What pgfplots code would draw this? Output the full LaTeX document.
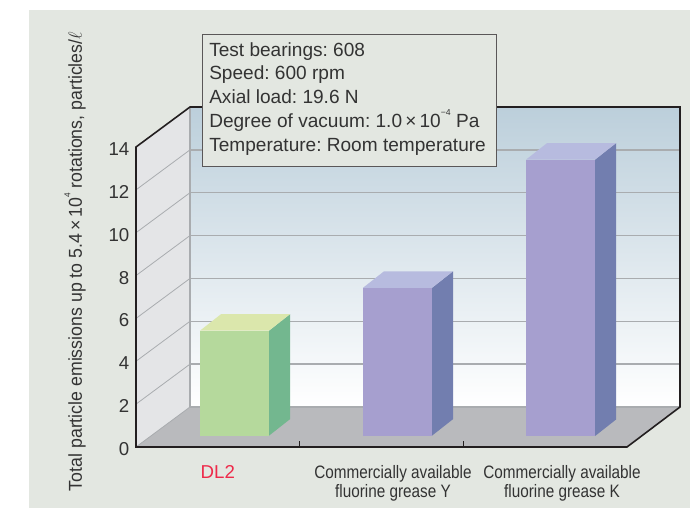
\documentclass[border=0pt]{standalone}
\usepackage{pgfplots}
\pgfplotsset{compat=1.18}
\usepackage{fontspec}
\setmainfont{Liberation Sans}
\frenchspacing
\definecolor{pagebg}{HTML}{E3E7E1}
\definecolor{txt}{HTML}{333333}
\definecolor{frame}{HTML}{231F20}
\definecolor{gridc}{HTML}{A9ACAF}
\definecolor{wallc}{HTML}{E4E5E7}
\definecolor{floorc}{HTML}{B9BABD}
\definecolor{wtop}{HTML}{BCCFDB}
\definecolor{gfront}{HTML}{B5D99C}
\definecolor{gside}{HTML}{73B78F}
\definecolor{gtop}{HTML}{DBE7AC}
\definecolor{pfront}{HTML}{A69FCF}
\definecolor{pside}{HTML}{727EAF}
\definecolor{ptop}{HTML}{B7BBDF}
\definecolor{dlred}{HTML}{EE2A4A}
\newcommand\supsmall[1]{\raisebox{0.62em}{\fontsize{6.5}{7}\selectfont #1}}
\begin{document}
\begin{tikzpicture}[x=0.75pt,y=0.75pt]
\fill[white] (0,0) rectangle (690,508);
\fill[pagebg] (29,0) rectangle (690,498);
\begin{axis}[
  at={(102pt,45.75pt)},anchor=south west,
  scale only axis,width=408pt,height=255pt,
  xmin=0,xmax=3.3238,ymin=0,ymax=15.867,
  clip=false,axis on top=true,
  axis line style={draw=none},
  bar shift=0pt,
  ytick={0,2,4,6,8,10,12,14},
  ytick style={draw=none},
  xtick={0.5,1.57,2.603},
  xticklabels={{\fontsize{14}{14.6}\selectfont\textcolor{dlred}{DL2}},
    {\scalebox{0.85}[1]{Commercially available}\\\scalebox{0.85}[1]{fluorine grease Y}},
    {\scalebox{0.85}[1]{Commercially available}\\\scalebox{0.85}[1]{fluorine grease K}}},
  x tick style={draw=none},
  xticklabel style={align=center,font=\fontsize{13.5}{14.6}\selectfont,text=txt,anchor=north,yshift=-10pt},
  yticklabel style={font=\fontsize{14}{15}\selectfont,text=txt,xshift=-1.5pt,yshift=-1.5pt},
  /pgf/number format/assume math mode=true,
  ylabel={\scalebox{0.95}[1]{Total particle emissions up to 5.4\,×\,10\supsmall{4} rotations, particles/$\ell$}},
  ylabel style={at={(axis description cs:-0.1121,0.5456)},anchor=center,font=\fontsize{14}{15}\selectfont,text=txt},
]
% walls and floor
\addplot[draw=none,fill=wallc] coordinates {(0,0)(0.33,1.867)(0.33,15.867)(0,14)} --cycle;
\addplot[draw=none,top color=wtop,bottom color=white] coordinates {(0.33,1.867)(0.33,15.867)(3.3238,15.867)(3.3238,1.867)} --cycle;
\addplot[draw=none,fill=floorc] coordinates {(0,0)(0.33,1.867)(3.3238,1.867)(3,0)} --cycle;
% grid
\foreach \v/\b in {0/1.867,2/3.867,4/5.867,6/7.867,8/9.867,10/11.867,12/13.867}{
  \edef\tmp{\noexpand\addplot[draw=gridc,line width=1.1pt] coordinates {(0.33,\b)(3.3238,\b)};
  \noexpand\addplot[draw=gridc,line width=0.6pt] coordinates {(0,\v)(0.33,\b)};}\tmp
}
\addplot[draw=gridc,line width=1.1pt] coordinates {(0.33,1.867)(0.33,15.867)};
% frame
\addplot[draw=frame,line width=1.2pt,line join=miter] coordinates {(0,0)(0,14)(0.33,15.867)(3.3238,15.867)(3.3238,1.867)(3,0)} --cycle;
% category separators on the floor edge
\addplot[draw=frame,line width=0.6pt] coordinates {(1,0)(1,0.3)};
\addplot[draw=frame,line width=0.6pt] coordinates {(2,0)(2,0.3)};
% bars
\addplot[ybar,bar width=51.75pt,fill=gfront,draw=none,xshift=12.5pt,yshift=8.5pt] coordinates {(0.5,4.9)};
\addplot[fill=gside,draw=none,xshift=12.5pt,yshift=8.5pt] coordinates {(0.7108,0)(0.7108,4.9)(0.8391,5.67)(0.8391,0.77)} --cycle;
\addplot[fill=gtop,draw=none,xshift=12.5pt,yshift=8.5pt] coordinates {(0.2892,4.9)(0.7108,4.9)(0.8391,5.67)(0.4175,5.67)} --cycle;
\addplot[ybar,bar width=51.75pt,fill=pfront,draw=none,xshift=12pt,yshift=8.5pt] coordinates {(1.5,6.9)};
\addplot[fill=pside,draw=none,xshift=12pt,yshift=8.5pt] coordinates {(1.7108,0)(1.7108,6.9)(1.8391,7.67)(1.8391,0.77)} --cycle;
\addplot[fill=ptop,draw=none,xshift=12pt,yshift=8.5pt] coordinates {(1.2892,6.9)(1.7108,6.9)(1.8391,7.67)(1.4175,7.67)} --cycle;
\addplot[ybar,bar width=51.75pt,fill=pfront,draw=none,xshift=11.5pt,yshift=8.2pt] coordinates {(2.5,12.9)};
\addplot[fill=pside,draw=none,xshift=11.5pt,yshift=8.2pt] coordinates {(2.7108,0)(2.7108,12.9)(2.8391,13.67)(2.8391,0.77)} --cycle;
\addplot[fill=ptop,draw=none,xshift=11.5pt,yshift=8.2pt] coordinates {(2.2892,12.9)(2.7108,12.9)(2.8391,13.67)(2.4175,13.67)} --cycle;
\end{axis}
\filldraw[fill=pagebg,draw=frame!75,line width=0.7pt] (202,342) rectangle (496,474);
\node[anchor=north west,align=left,inner sep=0pt,font=\fontsize{14.3}{17.85}\selectfont,text=txt] at (209,466) {Test bearings: 608\\Speed: 600 rpm\\Axial load: 19.6 N\\Degree of vacuum: 1.0\,×\,10\supsmall{−4} Pa\\Temperature: Room temperature};
\end{tikzpicture}
\end{document}
